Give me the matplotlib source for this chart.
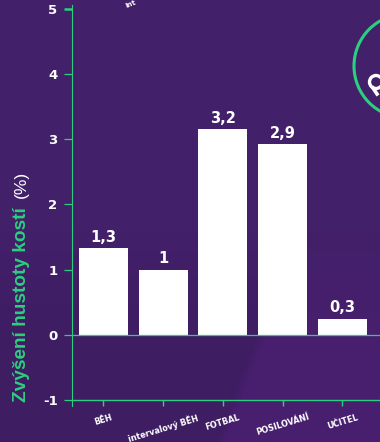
import numpy as np
import matplotlib
matplotlib.use("Agg")
import matplotlib.pyplot as plt
from matplotlib.patches import Circle

plt.rcParams['font.family'] = ['DejaVu Sans']

# Data
categories = ["BĚH", "intervalový BĚH", "FOTBAL", "POSILOVÁNÍ", "UČITEL"]
bar_tops = [1.33, 1, 3.16, 2.92, 0.25]
value_labels = ["1,3", "1", "3,2", "2,9", "0,3"]
y_ticks = [-1, 0, 1, 2, 3, 4, 5]

GREEN = "#2bd07e"
BG = "#43206a"
SANS = ["Liberation Sans", "DejaVu Sans"]

fig = plt.figure(figsize=(3.8, 4.42), dpi=100, facecolor=BG)

# background, darker lower left and lighter lower right
yy, xx = np.mgrid[0:442, 0:380]
fade = np.clip((yy - 230) / 110, 0, 1)
edge = np.clip((xx - (255 - (yy - 335) * 0.38)) / 10, 0, 1)
base = np.array([0x43, 0x20, 0x6a]) / 255
dark = np.array([0x3e, 0x1d, 0x63]) / 255
light = np.array([0x48, 0x1f, 0x6e]) / 255
mix = (edge * fade)[..., None]
left_fade = ((1 - edge) * fade)[..., None]
img = base * (1 - mix - left_fade) + light * mix + dark * left_fade

bg = fig.add_axes([0, 0, 1, 1], zorder=0)
bg.imshow(img, extent=(0, 380, 442, 0), aspect="auto")
bg.set_xlim(0, 380)
bg.set_ylim(442, 0)
bg.axis("off")
bg.add_patch(Circle((406, 66), 52, fill=False, ec=GREEN, lw=2.2))
bg.add_patch(Circle((376, 82), 6.5, fill=False, ec="white", lw=2.4))
bg.plot([373, 377], [88, 94], color="white", lw=2.6)
bg.text(125, 4.5, "int", color="white", fontsize=5, fontweight="bold",
        rotation=22, ha="left", va="center")

ax = fig.add_axes([71.5 / 380, 1 - 406 / 442, 1 - 71.5 / 380, (406 - 5) / 442], zorder=1)
ax.patch.set_alpha(0)

x = np.arange(len(categories))
ax.bar(x, bar_tops, width=0.82, color="white", zorder=2)
ax.axhline(0, color=GREEN, lw=0.9, zorder=3)

for i, label in enumerate(value_labels):
    ax.text(x[i], bar_tops[i] + 0.05, label, color="white", fontsize=10.5, fontweight="bold",
            ha="center", va="bottom")

ax.set_xlim(-0.5356, 4.628)
ax.set_ylim(-1.092, 5.06)

for s in ["top", "right"]:
    ax.spines[s].set_visible(False)
ax.spines["left"].set_color(GREEN)
ax.spines["left"].set_linewidth(0.8)
ax.spines["bottom"].set_color(GREEN)
ax.spines["bottom"].set_linewidth(1)
ax.spines["bottom"].set_position(("data", -1))

ax.set_yticks(y_ticks)
ax.set_yticklabels([str(v) for v in y_ticks], color="white", fontsize=9.5, fontweight="bold")
ax.tick_params(axis="y", color=GREEN, length=6, width=0.9, pad=4)
ax.yaxis.get_major_ticks()[-1].tick1line.set_markeredgewidth(1.8)
ax.set_xticks(x)
ax.set_xticklabels(categories, rotation=17, ha="center", color="white",
                   fontsize=5.9, fontweight="bold")
ax.tick_params(axis="x", color=GREEN, length=4, width=1, pad=5)

fig.text(21.5 / 380, 1 - 305 / 442, "Zvýšení hustoty kostí", color=GREEN, fontsize=13.7,
         fontweight="bold", rotation=90, ha="center", va="center", family=SANS)
fig.text(21.5 / 380, 1 - 184 / 442, "(%)", color="white", fontsize=12.5,
         rotation=90, ha="center", va="center", family=SANS)

fig.savefig("out.png", dpi=100, facecolor=BG)
